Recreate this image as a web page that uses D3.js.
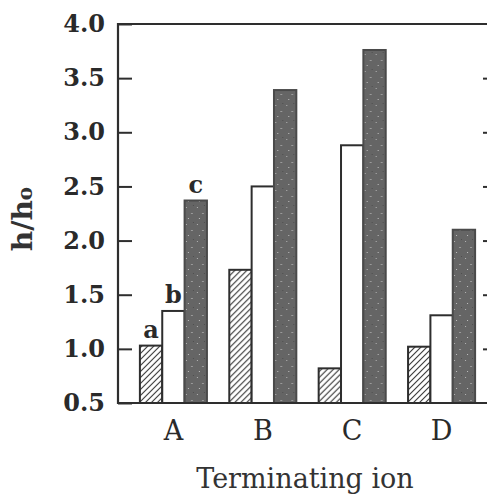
<!DOCTYPE html>
<html>
<head>
<meta charset="utf-8">
<script src="https://cdn.jsdelivr.net/npm/d3@7"></script>
<style>
  body { margin: 0; background: #fff; }
  svg { display: block; }
  text { font-family: "DejaVu Serif", "Liberation Serif", serif; fill: #2a2a2a; }
</style>
</head>
<body>
<svg id="chart"></svg>
<script>
// data
var categories = ['A', 'B', 'C', 'D'];
var seriesKeys = ['a', 'b', 'c'];
var hatchedValues = [1.03, 1.73, 0.82, 1.02];
var whiteValues = [1.35, 2.50, 2.88, 1.31];
var darkValues = [2.37, 3.39, 3.76, 2.10];
var yTicks = [0.5, 1.0, 1.5, 2.0, 2.5, 3.0, 3.5, 4.0];

var width = 487, height = 495;
// plot frame (right edge sits just past the picture)
var frameLeft = 118, frameRight = 497, frameTop = 24, frameBottom = 403;
var ink = '#2e2e2e';

var svg = d3.select('#chart')
  .attr('width', width)
  .attr('height', height);

var defs = svg.append('defs');

// hatch for series a
defs.append('pattern')
  .attr('id', 'hatch')
  .attr('patternUnits', 'userSpaceOnUse')
  .attr('width', 6)
  .attr('height', 6)
  .append('path')
  .attr('d', 'M-1,7 L7,-1 M-4,4 L4,-4 M2,10 L10,2')
  .attr('stroke', '#333')
  .attr('stroke-width', 1.1);

// speckled grey for series c (scanned halftone look)
var speck = defs.append('pattern')
  .attr('id', 'speck')
  .attr('patternUnits', 'userSpaceOnUse')
  .attr('width', 11)
  .attr('height', 17);
speck.append('rect').attr('width', 11).attr('height', 17).attr('fill', '#656565');
speck.append('rect').attr('x', 2).attr('y', 3).attr('width', 1).attr('height', 1).attr('fill', '#b5b5b5');
speck.append('rect').attr('x', 7).attr('y', 9).attr('width', 2).attr('height', 1).attr('fill', '#9a9a9a');
speck.append('rect').attr('x', 4).attr('y', 14).attr('width', 1).attr('height', 1).attr('fill', '#c0c0c0');
speck.append('rect').attr('x', 9).attr('y', 1).attr('width', 1).attr('height', 1).attr('fill', '#4e4e4e');

var x = d3.scaleBand()
  .domain(categories)
  .range([frameLeft, frameRight])
  .paddingInner(0.25)
  .paddingOuter(0.245);

var xSub = d3.scaleBand()
  .domain(seriesKeys)
  .range([0, x.bandwidth()]);

var y = d3.scaleLinear()
  .domain([0.5, 4.0])
  .range([frameBottom, frameTop]);

var table = categories.map(function(c, i) {
  return { cat: c, values: [
    { key: 'a', v: hatchedValues[i] },
    { key: 'b', v: whiteValues[i] },
    { key: 'c', v: darkValues[i] }
  ]};
});

var fills = { a: 'url(#hatch)', b: '#ffffff', c: 'url(#speck)' };
var strokes = { a: ink, b: ink, c: '#4a4a4a' };

// bars
var groups = svg.append('g').selectAll('g')
  .data(table)
  .join('g')
  .attr('transform', function(d) { return 'translate(' + x(d.cat) + ',0)'; });

groups.selectAll('rect')
  .data(function(d) { return d.values; })
  .join('rect')
  .attr('x', function(d) { return xSub(d.key); })
  .attr('y', function(d) { return y(d.v); })
  .attr('width', xSub.bandwidth())
  .attr('height', function(d) { return y(0.5) - y(d.v); })
  .attr('fill', function(d) { return fills[d.key]; })
  .attr('stroke', function(d) { return strokes[d.key]; })
  .attr('stroke-width', 2);

// series letters over group A
svg.append('g').selectAll('text')
  .data(table[0].values)
  .join('text')
  .attr('x', function(d) { return x('A') + xSub(d.key) + xSub.bandwidth() / 2; })
  .attr('y', function(d) { return y(d.v) - 8; })
  .attr('text-anchor', 'middle')
  .style('font-size', '24px')
  .style('font-weight', 'bold')
  .text(function(d) { return d.key; });

// frame
var axisLeft = d3.axisLeft(y)
  .tickValues(yTicks)
  .tickFormat(d3.format('.1f'))
  .tickSize(-14)
  .tickPadding(13);

var gy = svg.append('g')
  .attr('transform', 'translate(' + frameLeft + ',0)')
  .call(axisLeft);
gy.select('.domain').remove();
gy.selectAll('line').attr('stroke', ink).attr('stroke-width', 2);
gy.selectAll('text')
  .style('font-size', '24px')
  .style('font-weight', 'bold')
  .style('font-family', '"DejaVu Serif", serif')
  .attr('fill', '#333');

var axisRight = d3.axisRight(y)
  .tickValues(yTicks.slice(1, -1))
  .tickFormat('')
  .tickSize(-14);
var gr = svg.append('g')
  .attr('transform', 'translate(' + frameRight + ',0)')
  .call(axisRight);
gr.select('.domain').remove();
gr.selectAll('line').attr('stroke', ink).attr('stroke-width', 2);

svg.append('path')
  .attr('d', 'M' + frameRight + ',' + frameTop + 'H' + frameLeft + 'V' + frameBottom + 'H' + frameRight)
  .attr('fill', 'none')
  .attr('stroke', ink)
  .attr('stroke-width', 2.2);

// category labels
var axisBottom = d3.axisBottom(x).tickSize(0).tickPadding(18);
var gx = svg.append('g')
  .attr('transform', 'translate(0,' + frameBottom + ')')
  .call(axisBottom);
gx.select('.domain').remove();
gx.selectAll('text')
  .style('font-size', '27px')
  .style('font-family', '"DejaVu Serif", serif')
  .attr('fill', '#333');

// axis titles
svg.append('text')
  .attr('x', 305)
  .attr('y', 488)
  .attr('text-anchor', 'middle')
  .style('font-size', '27px')
  .style('fill', '#333')
  .text('Terminating ion');

var yl = svg.append('text')
  .attr('transform', 'translate(32,219) rotate(-90)')
  .attr('text-anchor', 'middle')
  .style('font-size', '28px')
  .style('font-weight', 'bold')
  .style('fill', '#333');
yl.append('tspan').text('h/h');
yl.append('tspan').style('font-size', '20px').text('o');
</script>
</body>
</html>
